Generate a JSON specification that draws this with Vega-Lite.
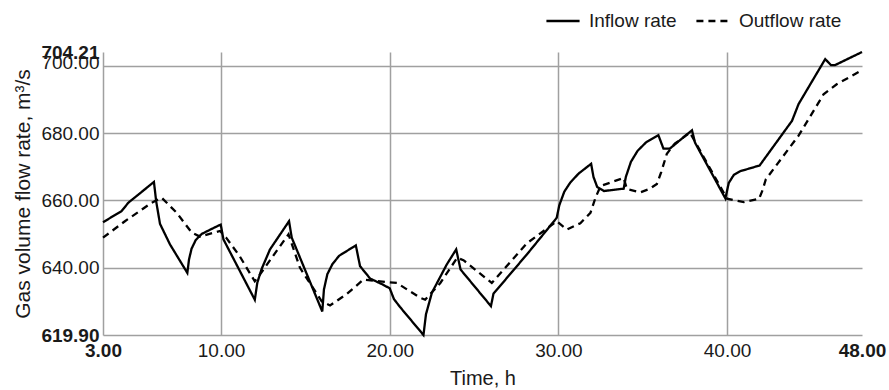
{
  "$schema": "https://vega.github.io/schema/vega-lite/v6.json",
  "width": 759,
  "height": 283,
  "autosize": {"type": "none"},
  "padding": {"left": 103, "top": 52, "right": 27, "bottom": 55},
  "background": "white",
  "config": {"view": {"stroke": null}, "font": "Liberation Sans"},
  "data": {"values": [
    {"t": 3, "v": 653.5, "series": "Inflow rate"},
    {"t": 4.1, "v": 656.8, "series": "Inflow rate"},
    {"t": 4.5, "v": 659.3, "series": "Inflow rate"},
    {"t": 6.02, "v": 665.5, "series": "Inflow rate"},
    {"t": 6.15, "v": 659.8, "series": "Inflow rate"},
    {"t": 6.38, "v": 653.0, "series": "Inflow rate"},
    {"t": 6.97, "v": 646.9, "series": "Inflow rate"},
    {"t": 8.0, "v": 638.4, "series": "Inflow rate"},
    {"t": 8.1, "v": 642.4, "series": "Inflow rate"},
    {"t": 8.25, "v": 645.6, "series": "Inflow rate"},
    {"t": 8.5, "v": 648.2, "series": "Inflow rate"},
    {"t": 8.85, "v": 650.0, "series": "Inflow rate"},
    {"t": 9.4, "v": 651.4, "series": "Inflow rate"},
    {"t": 9.98, "v": 652.8, "series": "Inflow rate"},
    {"t": 10.14, "v": 648.4, "series": "Inflow rate"},
    {"t": 12.0, "v": 630.4, "series": "Inflow rate"},
    {"t": 12.15, "v": 635.5, "series": "Inflow rate"},
    {"t": 12.4, "v": 639.5, "series": "Inflow rate"},
    {"t": 12.9, "v": 645.4, "series": "Inflow rate"},
    {"t": 14.03, "v": 653.8, "series": "Inflow rate"},
    {"t": 14.19, "v": 648.9, "series": "Inflow rate"},
    {"t": 16.0, "v": 626.9, "series": "Inflow rate"},
    {"t": 16.1, "v": 633.5, "series": "Inflow rate"},
    {"t": 16.3, "v": 638.0, "series": "Inflow rate"},
    {"t": 16.6, "v": 641.0, "series": "Inflow rate"},
    {"t": 17.0, "v": 643.5, "series": "Inflow rate"},
    {"t": 17.99, "v": 646.6, "series": "Inflow rate"},
    {"t": 18.24, "v": 640.4, "series": "Inflow rate"},
    {"t": 18.84, "v": 636.7, "series": "Inflow rate"},
    {"t": 19.6, "v": 634.9, "series": "Inflow rate"},
    {"t": 20.0, "v": 633.8, "series": "Inflow rate"},
    {"t": 20.25, "v": 630.6, "series": "Inflow rate"},
    {"t": 20.6, "v": 628.3, "series": "Inflow rate"},
    {"t": 21.4, "v": 623.5, "series": "Inflow rate"},
    {"t": 22.0, "v": 619.9, "series": "Inflow rate"},
    {"t": 22.15, "v": 626.1, "series": "Inflow rate"},
    {"t": 22.5, "v": 632.5, "series": "Inflow rate"},
    {"t": 23.38, "v": 640.9, "series": "Inflow rate"},
    {"t": 23.94, "v": 645.4, "series": "Inflow rate"},
    {"t": 24.2, "v": 639.4, "series": "Inflow rate"},
    {"t": 26.0, "v": 628.5, "series": "Inflow rate"},
    {"t": 26.15, "v": 632.2, "series": "Inflow rate"},
    {"t": 28.13, "v": 643.9, "series": "Inflow rate"},
    {"t": 29.9, "v": 654.8, "series": "Inflow rate"},
    {"t": 30.05, "v": 658.5, "series": "Inflow rate"},
    {"t": 30.35, "v": 662.6, "series": "Inflow rate"},
    {"t": 30.7, "v": 665.3, "series": "Inflow rate"},
    {"t": 31.2, "v": 668.0, "series": "Inflow rate"},
    {"t": 31.94, "v": 670.9, "series": "Inflow rate"},
    {"t": 32.08, "v": 667.0, "series": "Inflow rate"},
    {"t": 32.3, "v": 664.0, "series": "Inflow rate"},
    {"t": 32.7, "v": 662.8, "series": "Inflow rate"},
    {"t": 33.87, "v": 663.5, "series": "Inflow rate"},
    {"t": 34.0, "v": 667.0, "series": "Inflow rate"},
    {"t": 34.3, "v": 671.5, "series": "Inflow rate"},
    {"t": 34.7, "v": 674.8, "series": "Inflow rate"},
    {"t": 35.2, "v": 677.3, "series": "Inflow rate"},
    {"t": 35.93, "v": 679.4, "series": "Inflow rate"},
    {"t": 36.23, "v": 675.4, "series": "Inflow rate"},
    {"t": 36.6, "v": 675.4, "series": "Inflow rate"},
    {"t": 37.92, "v": 680.9, "series": "Inflow rate"},
    {"t": 38.1, "v": 677.2, "series": "Inflow rate"},
    {"t": 39.9, "v": 660.6, "series": "Inflow rate"},
    {"t": 40.1, "v": 665.2, "series": "Inflow rate"},
    {"t": 40.4, "v": 667.6, "series": "Inflow rate"},
    {"t": 40.78, "v": 668.7, "series": "Inflow rate"},
    {"t": 41.93, "v": 670.4, "series": "Inflow rate"},
    {"t": 43.85, "v": 683.7, "series": "Inflow rate"},
    {"t": 44.24, "v": 688.7, "series": "Inflow rate"},
    {"t": 45.82, "v": 702.1, "series": "Inflow rate"},
    {"t": 46.16, "v": 700.3, "series": "Inflow rate"},
    {"t": 46.4, "v": 700.3, "series": "Inflow rate"},
    {"t": 48.0, "v": 704.21, "series": "Inflow rate"},
    {"t": 3, "v": 648.9, "series": "Outflow rate"},
    {"t": 4.3, "v": 653.8, "series": "Outflow rate"},
    {"t": 5.89, "v": 659.3, "series": "Outflow rate"},
    {"t": 6.48, "v": 660.8, "series": "Outflow rate"},
    {"t": 7.37, "v": 656.3, "series": "Outflow rate"},
    {"t": 8.26, "v": 650.4, "series": "Outflow rate"},
    {"t": 8.75, "v": 649.2, "series": "Outflow rate"},
    {"t": 9.94, "v": 650.9, "series": "Outflow rate"},
    {"t": 10.3, "v": 648.9, "series": "Outflow rate"},
    {"t": 11.1, "v": 643.4, "series": "Outflow rate"},
    {"t": 12.0, "v": 635.9, "series": "Outflow rate"},
    {"t": 12.3, "v": 637.9, "series": "Outflow rate"},
    {"t": 13.5, "v": 646.4, "series": "Outflow rate"},
    {"t": 14.0, "v": 649.9, "series": "Outflow rate"},
    {"t": 14.68, "v": 639.9, "series": "Outflow rate"},
    {"t": 15.97, "v": 629.9, "series": "Outflow rate"},
    {"t": 16.46, "v": 628.7, "series": "Outflow rate"},
    {"t": 17.45, "v": 632.1, "series": "Outflow rate"},
    {"t": 18.44, "v": 636.4, "series": "Outflow rate"},
    {"t": 19.43, "v": 635.9, "series": "Outflow rate"},
    {"t": 20.42, "v": 635.4, "series": "Outflow rate"},
    {"t": 21.8, "v": 631.0, "series": "Outflow rate"},
    {"t": 22.1, "v": 630.4, "series": "Outflow rate"},
    {"t": 23.0, "v": 635.4, "series": "Outflow rate"},
    {"t": 24.0, "v": 642.9, "series": "Outflow rate"},
    {"t": 24.37, "v": 642.2, "series": "Outflow rate"},
    {"t": 26.05, "v": 635.4, "series": "Outflow rate"},
    {"t": 28.13, "v": 647.2, "series": "Outflow rate"},
    {"t": 29.9, "v": 653.8, "series": "Outflow rate"},
    {"t": 30.5, "v": 651.3, "series": "Outflow rate"},
    {"t": 31.3, "v": 653.2, "series": "Outflow rate"},
    {"t": 31.9, "v": 656.3, "series": "Outflow rate"},
    {"t": 32.2, "v": 660.8, "series": "Outflow rate"},
    {"t": 32.5, "v": 664.3, "series": "Outflow rate"},
    {"t": 33.87, "v": 666.7, "series": "Outflow rate"},
    {"t": 34.06, "v": 663.4, "series": "Outflow rate"},
    {"t": 34.85, "v": 662.4, "series": "Outflow rate"},
    {"t": 35.4, "v": 663.4, "series": "Outflow rate"},
    {"t": 35.84, "v": 664.9, "series": "Outflow rate"},
    {"t": 36.1, "v": 668.5, "series": "Outflow rate"},
    {"t": 36.43, "v": 673.9, "series": "Outflow rate"},
    {"t": 36.9, "v": 676.9, "series": "Outflow rate"},
    {"t": 37.8, "v": 680.2, "series": "Outflow rate"},
    {"t": 38.1, "v": 677.5, "series": "Outflow rate"},
    {"t": 40.0, "v": 660.5, "series": "Outflow rate"},
    {"t": 41.0, "v": 659.5, "series": "Outflow rate"},
    {"t": 41.9, "v": 660.5, "series": "Outflow rate"},
    {"t": 42.1, "v": 663.0, "series": "Outflow rate"},
    {"t": 42.3, "v": 666.3, "series": "Outflow rate"},
    {"t": 44.24, "v": 679.3, "series": "Outflow rate"},
    {"t": 45.72, "v": 691.6, "series": "Outflow rate"},
    {"t": 46.5, "v": 694.6, "series": "Outflow rate"},
    {"t": 48.0, "v": 698.8, "series": "Outflow rate"}
  ]},
  "mark": {"type": "line", "strokeWidth": 2.3, "color": "black"},
  "encoding": {
    "x": {
      "field": "t", "type": "quantitative",
      "scale": {"domain": [3, 48], "nice": false, "zero": false},
      "axis": {
        "title": "Time, h",
        "values": [3, 10, 20, 30, 40, 48],
        "format": ".2f",
        "labelFlush": false,
        "labelOverlap": false,
        "ticks": false,
        "labelPadding": 6,
        "labelFontSize": 19,
        "labelColor": "#1a1a1a",
        "labelFontWeight": {"condition": {"test": "datum.value == 3 || datum.value == 48", "value": "bold"}, "value": "normal"},
        "domainColor": "#a0a0a0",
        "domainWidth": 1.5,
        "gridColor": "#a0a0a0",
        "gridWidth": 1.5,
        "gridOpacity": {"condition": {"test": "datum.value == 3 || datum.value == 48", "value": 0}, "value": 1},
        "titleFontSize": 20,
        "titleFontWeight": "normal",
        "titleColor": "#1a1a1a",
        "titleX": 379.5,
        "titleY": 43,
        "titleBaseline": "middle"
      }
    },
    "y": {
      "field": "v", "type": "quantitative",
      "scale": {"domain": [619.9, 704.21], "nice": false, "zero": false},
      "axis": {
        "title": "Gas volume flow rate, m³/s",
        "values": [619.9, 640, 660, 680, 700, 704.21],
        "format": ".2f",
        "labelFlush": false,
        "labelOverlap": false,
        "ticks": false,
        "labelPadding": 4,
        "labelFontSize": 19,
        "labelColor": "#1a1a1a",
        "labelFontWeight": {"condition": {"test": "datum.value < 620 || datum.value > 704", "value": "bold"}, "value": "normal"},
        "labelOffset": {"condition": {"test": "datum.value == 700", "value": -4}, "value": 0},
        "domainColor": "#a0a0a0",
        "domainWidth": 1.5,
        "gridColor": "#a0a0a0",
        "gridWidth": 1.5,
        "gridOpacity": {"condition": {"test": "datum.value < 620 || datum.value > 704", "value": 0}, "value": 1},
        "titleFontSize": 21,
        "titleFontWeight": "normal",
        "titleColor": "#1a1a1a",
        "titleX": -80,
        "titleY": 141.5,
        "titleAlign": "center",
        "titleBaseline": "middle"
      }
    },
    "strokeDash": {
      "field": "series", "type": "nominal",
      "scale": {"domain": ["Inflow rate", "Outflow rate"], "range": [[1, 0], [7, 5]]},
      "legend": {
        "title": null,
        "orient": "none",
        "legendX": 442,
        "legendY": -49,
        "direction": "horizontal",
        "symbolType": "stroke",
        "symbolSize": 1100,
        "symbolStrokeWidth": 2.3,
        "symbolStrokeColor": "black",
        "labelFontSize": 19,
        "labelColor": "#1a1a1a",
        "labelOffset": 8,
        "columnPadding": 14,
        "labelLimit": 300
      }
    }
  }
}
